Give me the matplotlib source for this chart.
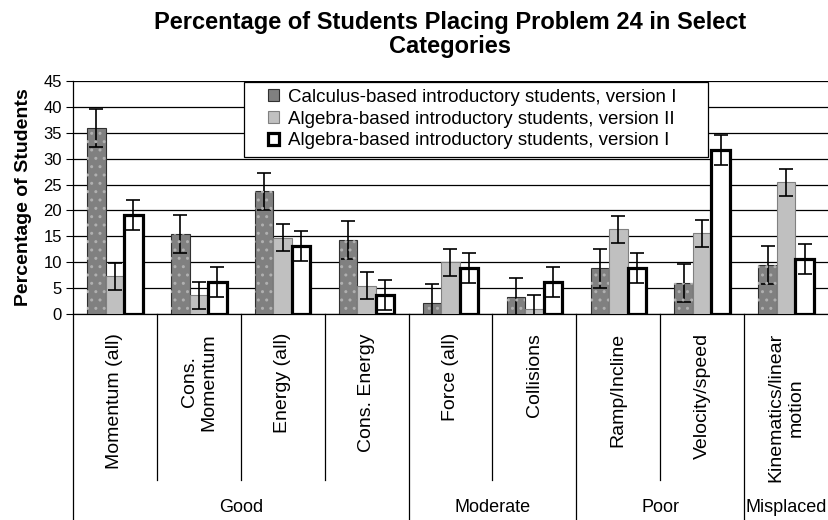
import numpy as np
import matplotlib.pyplot as plt
from matplotlib.patches import Rectangle
from matplotlib.transforms import blended_transform_factory

plt.rcParams['font.family'] = ['Liberation Sans', 'DejaVu Sans']

# categories and groups
categories = ['Momentum (all)', 'Cons.\nMomentum', 'Energy (all)', 'Cons. Energy',
              'Force (all)', 'Collisions', 'Ramp/Incline', 'Velocity/speed',
              'Kinematics/linear\nmotion']
groups = ['Good', 'Moderate', 'Poor', 'Misplaced']
group_sizes = [4, 2, 2, 1]

series = ['Calculus-based introductory students, version I',
          'Algebra-based introductory students, version II',
          'Algebra-based introductory students, version I']

# values
calc_v1 = [35.9, 15.5, 23.7, 14.3, 2.1, 3.3, 8.8, 6.0, 9.4]
calc_v1_err = [3.6, 3.7, 3.6, 3.6, 3.7, 3.7, 3.7, 3.7, 3.7]
alg_v2 = [7.3, 3.6, 14.7, 5.5, 10.0, 0.9, 16.4, 15.6, 25.4]
alg_v2_err = [2.6, 2.6, 2.6, 2.6, 2.6, 2.7, 2.6, 2.6, 2.6]
alg_v1 = [19.2, 6.2, 13.2, 3.7, 8.9, 6.2, 8.9, 31.7, 10.7]
alg_v1_err = [2.9, 2.9, 2.9, 2.9, 2.9, 2.9, 2.9, 2.9, 2.9]

fig = plt.figure(figsize=(8.29, 5.2), dpi=100)
ax = fig.add_axes([73 / 829, 1 - 314 / 520, 755 / 829, 233 / 520])

x = np.arange(len(categories))
w = 0.22
ekw = dict(ecolor='black', elinewidth=1.2, capsize=5, capthick=1.2)

# dark dotted bars
ax.bar(x - w, calc_v1, w, color='#808080', edgecolor='#303030', linewidth=0.8,
       yerr=calc_v1_err, error_kw=ekw, label=series[0], zorder=3)
ax.bar(x - w, calc_v1, w, facecolor='none', edgecolor='#b0b0b0', hatch='..',
       linewidth=0, zorder=3.5)
ax.bar(x, alg_v2, w, color='#c0c0c0', edgecolor='#808080', linewidth=0.8,
       yerr=alg_v2_err, error_kw=ekw, label=series[1], zorder=3)
ax.bar(x + w, alg_v1, w, color='white', edgecolor='black', linewidth=2.3,
       yerr=alg_v1_err, error_kw=ekw, label=series[2], zorder=3)

ax.set_xlim(-0.5, len(categories) - 0.5)
ax.set_ylim(0, 45)
ax.set_yticks(np.arange(0, 46, 5))
ax.tick_params(axis='y', labelsize=12, length=5, direction='out', pad=3)
ax.set_xticks([])
ax.grid(axis='y', color='black', linewidth=0.9, zorder=0)
for s in ['top', 'right', 'bottom']:
    ax.spines[s].set_visible(False)
ax.spines['left'].set_linewidth(0.9)

ax.set_ylabel('Percentage of Students', fontsize=14, fontweight='bold', labelpad=8)
ax.set_title('Percentage of Students Placing Problem 24 in Select\nCategories',
             fontsize=17, fontweight='bold', pad=20, linespacing=1.05)

# multi-level category axis
tr = blended_transform_factory(ax.transData, ax.transAxes)
y_inner = -(480 - 314) / 233
y_bottom = -(520 - 314) / 233
ax.plot([-0.5, len(categories) - 0.5], [0, 0], color='black', lw=0.9,
        transform=tr, clip_on=False)
for i, lab in enumerate(categories):
    ax.text(i, -(333 - 314) / 233, lab, rotation=90, ha='center', va='top',
            multialignment='center', fontsize=14, transform=tr)
bounds = np.cumsum([0] + group_sizes) - 0.5
for i in range(1, len(categories)):
    bottom = y_bottom if i - 0.5 in bounds else y_inner
    ax.plot([i - 0.5, i - 0.5], [0, bottom], color='black', lw=0.9,
            transform=tr, clip_on=False)
ax.plot([-0.5, -0.5], [0, y_bottom], color='black', lw=0.9,
        transform=tr, clip_on=False)
for g, a, b in zip(groups, bounds[:-1], bounds[1:]):
    ax.text((a + b) / 2, -(507 - 314) / 233, g, ha='center', va='center',
            fontsize=13, transform=tr)

# legend box drawn separately for wider side padding
ax.add_patch(Rectangle((244 / 829, 1 - 157 / 520), 464 / 829, 75 / 520,
                       transform=fig.transFigure, facecolor='white',
                       edgecolor='black', linewidth=0.9, zorder=4, clip_on=False))
leg = ax.legend(loc='upper left', bbox_to_anchor=(266 / 829, 1 - 87 / 520),
                bbox_transform=fig.transFigure, fontsize=13.5, frameon=False,
                handlelength=0.6, handleheight=0.6, handletextpad=0.45,
                borderpad=0.1, labelspacing=0.25, borderaxespad=0)
leg.set_zorder(5)

fig.savefig('out.png', dpi=100)
